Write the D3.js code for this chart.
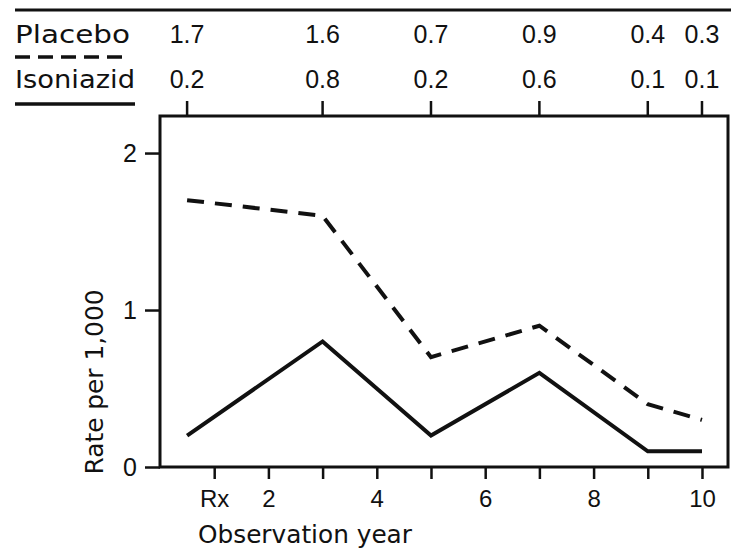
<!DOCTYPE html>
<html>
<head>
<meta charset="utf-8">
<script src="https://cdn.jsdelivr.net/npm/d3@7/dist/d3.min.js"></script>
<style>
  body { margin: 0; background: #fff; }
  svg { display: block; }
  text { font-family: "Liberation Sans", Arial, sans-serif; fill: #111; }
  .word { font-family: "DejaVu Sans", sans-serif; }
</style>
</head>
<body>
<svg id="chart" width="731" height="552"></svg>
<script>
// ---- data ----
const years = [0.5, 3, 5, 7, 9, 10];
const placebo = [1.7, 1.6, 0.7, 0.9, 0.4, 0.3];
const isoniazid = [0.2, 0.8, 0.2, 0.6, 0.1, 0.1];
const placeboLabels = ["1.7", "1.6", "0.7", "0.9", "0.4", "0.3"];
const isoniazidLabels = ["0.2", "0.8", "0.2", "0.6", "0.1", "0.1"];
const xTickValues = [1, 2, 3, 4, 5, 6, 7, 8, 9, 10];
const xTickLabels = {1: "Rx", 2: "2", 4: "4", 6: "6", 8: "8", 10: "10"};
const yTickValues = [0, 1, 2];

const svg = d3.select("#chart");
const mLeft = 160, mRight = 728, mTop = 116, mBottom = 467;
const x = d3.scaleLinear().domain([0, 10.48]).range([mLeft, mRight]);
const y = d3.scaleLinear().domain([0, 2.236]).range([mBottom, mTop]);
const ink = "#111";

// header rules
svg.append("line").attr("x1", 15).attr("x2", 731).attr("y1", 10).attr("y2", 10)
  .attr("stroke", ink).attr("stroke-width", 3);
svg.append("text").attr("class", "word").attr("x", 15).attr("y", 43).attr("font-size", 24)
  .attr("textLength", 115).attr("lengthAdjust", "spacingAndGlyphs").text("Placebo");
svg.append("line").attr("x1", 15).attr("x2", 130).attr("y1", 57).attr("y2", 57)
  .attr("stroke", ink).attr("stroke-width", 3.5).attr("stroke-dasharray", "15,8");
svg.append("text").attr("class", "word").attr("x", 15).attr("y", 88).attr("font-size", 24)
  .attr("textLength", 120).attr("lengthAdjust", "spacingAndGlyphs").text("Isoniazid");
svg.append("line").attr("x1", 15).attr("x2", 135).attr("y1", 104).attr("y2", 104)
  .attr("stroke", ink).attr("stroke-width", 3.5);

// header values
svg.append("g").selectAll("text").data(years).join("text")
  .attr("x", d => x(d)).attr("y", 43).attr("text-anchor", "middle")
  .attr("font-size", 25).text((d, i) => placeboLabels[i]);
svg.append("g").selectAll("text").data(years).join("text")
  .attr("x", d => x(d)).attr("y", 88).attr("text-anchor", "middle")
  .attr("font-size", 25).text((d, i) => isoniazidLabels[i]);

// top ticks
svg.append("g").selectAll("line").data(years).join("line")
  .attr("x1", d => x(d)).attr("x2", d => x(d)).attr("y1", 101).attr("y2", mTop)
  .attr("stroke", ink).attr("stroke-width", 2.5);

// frame
svg.append("rect").attr("x", mLeft).attr("y", mTop).attr("width", mRight - mLeft)
  .attr("height", mBottom - mTop).attr("fill", "none").attr("stroke", ink).attr("stroke-width", 3);

// bottom axis
const xAxis = d3.axisBottom(x).tickValues(xTickValues).tickSize(12).tickPadding(4)
  .tickFormat(d => xTickLabels[d] || "");
const gx = svg.append("g").attr("transform", `translate(0,${mBottom})`).call(xAxis);
gx.select(".domain").remove();
gx.selectAll(".tick line").attr("stroke", ink).attr("stroke-width", 2.5);
gx.selectAll(".tick text").attr("font-size", 24).attr("fill", ink)
  .attr("font-family", "Liberation Sans, Arial, sans-serif").attr("dy", "0.98em");

// left axis
const yAxis = d3.axisLeft(y).tickValues(yTickValues).tickSize(15).tickPadding(8)
  .tickFormat(d3.format("d"));
const gy = svg.append("g").attr("transform", `translate(${mLeft},0)`).call(yAxis);
gy.select(".domain").remove();
gy.selectAll(".tick line").attr("stroke", ink).attr("stroke-width", 2.5);
gy.selectAll(".tick text").attr("font-size", 25).attr("fill", ink)
  .attr("font-family", "Liberation Sans, Arial, sans-serif");

// axis titles
svg.append("text").attr("class", "word").attr("x", 198).attr("y", 543).attr("font-size", 25)
  .attr("textLength", 214).attr("lengthAdjust", "spacingAndGlyphs").text("Observation year");
svg.append("text").attr("class", "word").attr("transform", "translate(103,382) rotate(-90)")
  .attr("text-anchor", "middle").attr("font-size", 24)
  .attr("textLength", 185).attr("lengthAdjust", "spacingAndGlyphs").text("Rate per 1,000");

// lines
const line = d3.line().x(d => x(d[0])).y(d => y(d[1]));
svg.append("path").datum(years.map((d, i) => [d, placebo[i]]))
  .attr("d", line).attr("fill", "none").attr("stroke", ink).attr("stroke-width", 4)
  .attr("stroke-dasharray", "17,11");
svg.append("path").datum(years.map((d, i) => [d, isoniazid[i]]))
  .attr("d", line).attr("fill", "none").attr("stroke", ink).attr("stroke-width", 4);
</script>
</body>
</html>
